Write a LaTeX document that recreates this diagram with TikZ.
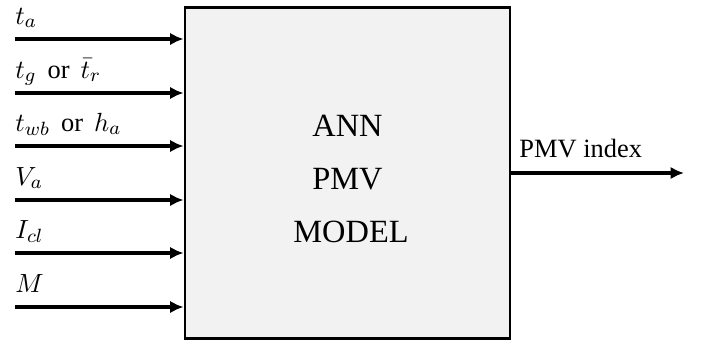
\documentclass[tikz,border=0pt]{standalone}
\usepackage{fontspec}
\setmainfont{Liberation Serif}
\usetikzlibrary{arrows.meta}
\newcommand{\orsep}{\hspace{0.42em}or\hspace{0.42em}}
\begin{document}
\begin{tikzpicture}[x=0.4167pt,y=-0.4167pt,
  inarrow/.style={line width=1.35pt,-{Latex[length=5.6pt,width=5.2pt]}},
  lbl/.style={anchor=base west,inner sep=0pt,font=\fontsize{11}{13}\selectfont},
  boxtext/.style={font=\fontsize{13.5}{16}\selectfont,inner sep=0pt,anchor=base}]
\useasboundingbox (0,0) rectangle (704,344);
\node[draw,line width=1.2pt,fill=gray!10,minimum width=325*0.4167pt,minimum height=331*0.4167pt,inner sep=0pt] (box) at (347.5,173) {};
\foreach \i/\y/\t in {1/39/{$t_a$},2/93/{$t_g$\orsep$\bar{t}_r$},3/146/{$t_{wb}$\orsep$h_a$},4/200/{$V_a$},5/253/{$I_{cl}$},6/307/{$M$}}{
  \coordinate (s\i) at (15,\y);
  \draw[inarrow] (s\i) -- (s\i -| box.west);
  \node[lbl] (l\i) at (15,\y-15) {\t};
}
\coordinate (o) at (684,173);
\draw[inarrow] (o -| box.east) -- (o);
\node[lbl,font=\fontsize{11}{13}\selectfont] (pmv) at (519,157) {PMV index};
\node[boxtext] (t1) at (347.5,136) {ANN};
\node[boxtext] (t2) at (347.5,189) {PMV};
\node[boxtext] (t3) at (351,242) {MODEL};
\end{tikzpicture}
\end{document}
